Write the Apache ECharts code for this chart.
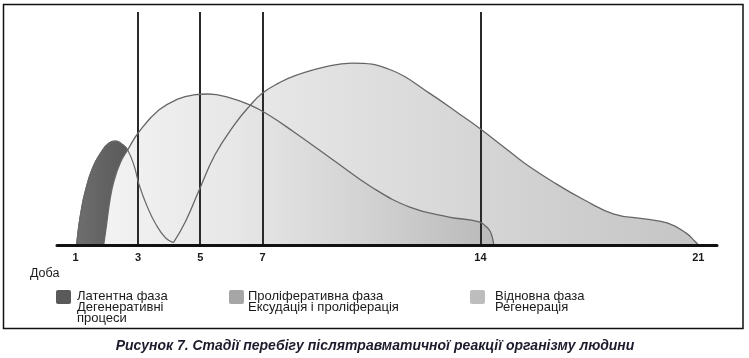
<!DOCTYPE html>
<html><head><meta charset="utf-8">
<script src="https://cdn.jsdelivr.net/npm/echarts@6/dist/echarts.min.js"></script>
<style>html,body{margin:0;padding:0;background:#fff}#c{width:749px;height:358px}</style>
</head><body><div id="c"></div>
<script>
// Day tick labels on the horizontal axis
const dayTicks = [1, 3, 5, 7, 14, 21];
// Vertical phase boundary markers (days)
const phaseMarkers = [3, 5, 7, 14];
// Phase curves: [day, relative intensity 0..100]
const latent = [[1.03,0],[1.09,7.3],[1.18,15.0],[1.30,22.7],[1.54,33.0],[1.84,40.3],[2.07,43.8],[2.28,44.6],[2.49,43.3],[2.67,40.8],[2.88,33.9],[3.03,26.2],[3.29,16.7],[3.57,9.0],[3.89,3.0],[4.14,1.0]];
const proliferative = [[1.90,0],[1.99,8.6],[2.10,19.3],[2.22,27.0],[2.43,35.2],[2.67,40.8],[3.03,48.5],[3.67,57.9],[4.30,62.7],[4.78,64.4],[5.25,64.8],[5.88,63.5],[6.59,60.1],[7.15,56.2],[8.01,48.5],[9.27,36.5],[10.50,24.9],[11.73,16.3],[12.99,12.0],[13.96,9.9],[14.26,6.9],[14.37,3.9],[14.43,0]];
const regeneration = [[4.14,1.0],[4.52,9.9],[4.94,22.7],[5.47,38.6],[6.09,51.5],[6.59,59.7],[7.00,65.2],[7.52,69.5],[8.01,72.5],[9.01,76.4],[9.87,78.1],[11.13,75.1],[12.36,65.2],[13.37,55.8],[13.96,50.2],[14.75,42.1],[15.41,35.2],[16.39,26.6],[17.34,19.3],[18.29,13.3],[19.27,11.2],[20.02,9.4],[20.60,5.2],[20.88,1.7],[21.0,0]];
// Legend texts
const legendLatent = 'Латентна фаза\nДегенеративні\nпроцеси';
const legendProlif = 'Проліферативна фаза\nЕксудація і проліферація';
const legendRegen = 'Відновна фаза\nРегенерація';
const axisName = 'Доба';
const caption = 'Рисунок 7. Стадії перебігу післятравматичної реакції організму людини';

const chart = echarts.init(document.getElementById('c'), null, {renderer: 'canvas'});
const grad = (stops) => new echarts.graphic.LinearGradient(0, 0, 1, 0, stops.map((c, i) => ({offset: i / (stops.length - 1), color: c})));
const FONT = '"Liberation Sans", Arial, sans-serif';
const SM = 0.45;

chart.setOption({
  animation: false,
  backgroundColor: '#ffffff',
  grid: {left: 57, right: 32, top: 12, bottom: 113},
  xAxis: {
    type: 'value', min: 0.4, max: 21.6, z: 10,
    axisLine: {show: true, lineStyle: {color: '#111', width: 3}},
    axisTick: {show: false},
    splitLine: {show: false},
    axisLabel: {customValues: dayTicks, margin: 7, color: '#1a1a1a', fontSize: 11, fontWeight: 'bold', fontFamily: FONT}
  },
  yAxis: {type: 'value', min: 0, max: 100, show: false, splitLine: {show: false}},
  series: [
    {type: 'line', name: 'latent-fill', data: latent, smooth: SM, symbol: 'none', z: 1,
     lineStyle: {color: '#555', width: 1}, areaStyle: {color: grad(['#6e6e6e', '#5a5a5a', '#525252']), opacity: 1}},
    {type: 'line', name: 'regen-fill', data: regeneration, smooth: SM, symbol: 'none', z: 2,
     lineStyle: {width: 0}, areaStyle: {color: grad(['#eeeeee', '#e0e0e0', '#d2d2d2', '#c5c5c5']), opacity: 1}},
    {type: 'line', name: 'prolif-fill', data: proliferative, smooth: SM, symbol: 'none', z: 3,
     lineStyle: {width: 0}, areaStyle: {color: grad(['#f3f3f3', '#e7e7e7', '#d3d3d3', '#b9b9b9']), opacity: 1}},
    {type: 'line', name: 'latent-line', data: latent, smooth: SM, symbol: 'none', z: 5,
     lineStyle: {color: '#6a6a6a', width: 1.2}},
    {type: 'line', name: 'regen-line', data: regeneration, smooth: SM, symbol: 'none', z: 5,
     lineStyle: {color: '#666', width: 1.3}},
    {type: 'line', name: 'prolif-line', data: proliferative, smooth: SM, symbol: 'none', z: 5,
     lineStyle: {color: '#666', width: 1.3}},
    {type: 'line', name: 'markers', data: [], z: 6,
     markLine: {silent: true, symbol: ['none', 'none'], animation: false,
       label: {show: false},
       lineStyle: {color: '#2a2a2a', width: 2, type: 'solid'},
       data: phaseMarkers.map(v => ({xAxis: v}))}}
  ],
  graphic: [
    {type: 'rect', shape: {x: 3.5, y: 4.5, width: 739.5, height: 324}, style: {fill: 'none', stroke: '#111', lineWidth: 1.5}, z: 100},
    {type: 'text', x: 30, y: 274, style: {text: axisName, font: '12.5px ' + FONT, fill: '#1a1a1a', align: 'left', verticalAlign: 'middle'}},
    {type: 'rect', shape: {x: 56, y: 290, width: 15, height: 14, r: 2}, style: {fill: '#5a5a5a'}},
    {type: 'text', x: 77, y: 291, style: {text: legendLatent, font: '13px ' + FONT, lineHeight: 11, fill: '#1a1a1a', align: 'left', verticalAlign: 'top'}},
    {type: 'rect', shape: {x: 229, y: 290, width: 15, height: 14, r: 2}, style: {fill: '#a6a6a6'}},
    {type: 'text', x: 248, y: 291, style: {text: legendProlif, font: '13px ' + FONT, lineHeight: 11, fill: '#1a1a1a', align: 'left', verticalAlign: 'top'}},
    {type: 'rect', shape: {x: 470, y: 290, width: 15, height: 14, r: 2}, style: {fill: '#bdbdbd'}},
    {type: 'text', x: 495, y: 291, style: {text: legendRegen, font: '13px ' + FONT, lineHeight: 11, fill: '#1a1a1a', align: 'left', verticalAlign: 'top'}},
    {type: 'text', x: 375, y: 346, style: {text: caption, font: 'italic bold 14px ' + FONT, fill: '#1c1c2c', align: 'center', verticalAlign: 'middle'}}
  ]
});
</script>
</body></html>
